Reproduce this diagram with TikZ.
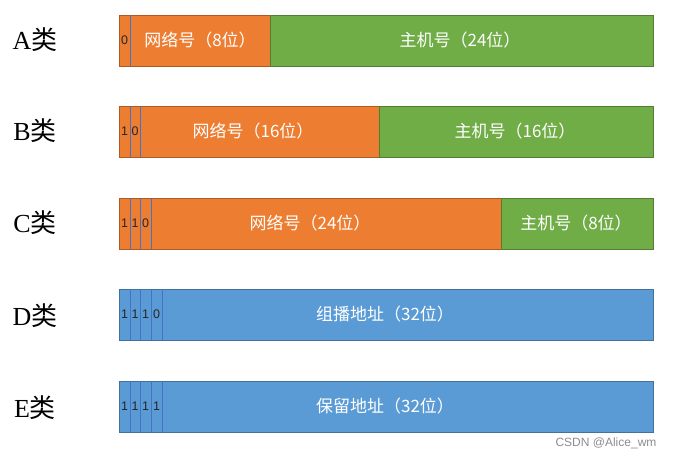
\documentclass[tikz,border=0pt]{standalone}
\usepackage{fontspec}
\setmainfont{Liberation Serif}
\newfontfamily\cjk{Noto Sans CJK SC}
\newfontfamily\uisans{Liberation Sans}
\usetikzlibrary{positioning}

\definecolor{orfill}{HTML}{ED7D31}
\definecolor{orline}{HTML}{AE5A21}
\definecolor{grfill}{HTML}{70AD47}
\definecolor{grline}{HTML}{507E32}
\definecolor{blfill}{HTML}{5B9BD5}
\definecolor{blline}{HTML}{41719C}
\definecolor{sepblue}{HTML}{4472C4}

% text pushed left inside a field
\newcommand{\padr}[2]{#1\hspace*{#2pt}}

\begin{document}
\begin{tikzpicture}[x=1pt,y=-1pt,
 cell/.style={anchor=north west,minimum height=51pt,inner sep=0pt,outer sep=0pt,line width=.8pt},
 bitcell/.style={cell,font=\uisans\fontsize{12.5}{12.5}\selectfont,text=black!85},
 seg/.style={cell,font=\cjk\fontsize{17}{17}\selectfont,text=white},
 orseg/.style={fill=orfill,draw=orline},
 grseg/.style={fill=grfill,draw=grline},
 blseg/.style={fill=blfill,draw=blline},
 sep/.style={draw=sepblue,line width=.9pt},
 rowlabel/.style={font=\fontsize{26}{26}\selectfont,inner sep=0pt}]
\useasboundingbox (0,0) rectangle (675,459);

% row labels
\node[rowlabel] (la) at (35,40) {A{\cjk 类}};
\node[rowlabel] (lb) at (35,131) {B{\cjk 类}};
\node[rowlabel] (lc) at (35,223) {C{\cjk 类}};
\node[rowlabel] (ld) at (35,316) {D{\cjk 类}};
\node[rowlabel] (le) at (35,408) {E{\cjk 类}};

% class A
\node[bitcell,orseg,minimum width=11pt] (a1) at (119,15) {0};
\node[seg,orseg,minimum width=140pt] (anet) at (130,15) {网络号（8位）};
\node[seg,grseg,minimum width=383pt] (ahost) at (270,15) {\padr{主机号（24位）}{3}};
\draw[sep] (a1.north east) -- (a1.south east);

% class B
\node[bitcell,orseg,minimum width=11pt] (b1) at (119,106) {1};
\node[bitcell,orseg,minimum width=10pt] (b2) at (130,106) {0};
\node[seg,orseg,minimum width=239pt] (bnet) at (140,106) {\padr{网络号（16位）}{13}};
\node[seg,grseg,minimum width=274pt] (bhost) at (379,106) {\padr{主机号（16位）}{2}};
\draw[sep] (b1.north east) -- (b1.south east);
\draw[sep] (b2.north east) -- (b2.south east);

% class C
\node[bitcell,orseg,minimum width=11pt] (c1) at (119,198) {1};
\node[bitcell,orseg,minimum width=10pt] (c2) at (130,198) {1};
\node[bitcell,orseg,minimum width=11pt] (c3) at (140,198) {0};
\node[seg,orseg,minimum width=350pt] (cnet) at (151,198) {\padr{网络号（24位）}{32}};
\node[seg,grseg,minimum width=152pt] (chost) at (501,198) {\padr{主机号（8位）}{2}};
\draw[sep] (c1.north east) -- (c1.south east);
\draw[sep] (c2.north east) -- (c2.south east);
\draw[sep] (c3.north east) -- (c3.south east);

% class D
\node[bitcell,blseg,minimum width=11pt] (d1) at (119,289) {1};
\node[bitcell,blseg,minimum width=10pt] (d2) at (130,289) {1};
\node[bitcell,blseg,minimum width=11pt] (d3) at (140,289) {1};
\node[bitcell,blseg,minimum width=11pt] (d4) at (151,289) {0};
\node[seg,blseg,minimum width=491pt] (daddr) at (162,289) {\padr{组播地址（32位）}{45}};
\foreach \n in {d1,d2,d3,d4}
  \draw[sep] (\n.north east) -- (\n.south east);

% class E
\node[bitcell,blseg,minimum width=11pt] (e1) at (119,381) {1};
\node[bitcell,blseg,minimum width=10pt] (e2) at (130,381) {1};
\node[bitcell,blseg,minimum width=11pt] (e3) at (140,381) {1};
\node[bitcell,blseg,minimum width=11pt] (e4) at (151,381) {1};
\node[seg,blseg,minimum width=491pt] (eaddr) at (162,381) {\padr{保留地址（32位）}{45}};
\foreach \n in {e1,e2,e3,e4}
  \draw[sep] (\n.north east) -- (\n.south east);

\node[font=\uisans\fontsize{12}{12}\selectfont,text=black!45,inner sep=0pt] (mark) at (606,443) {CSDN @Alice\_wm};
\end{tikzpicture}
\end{document}
